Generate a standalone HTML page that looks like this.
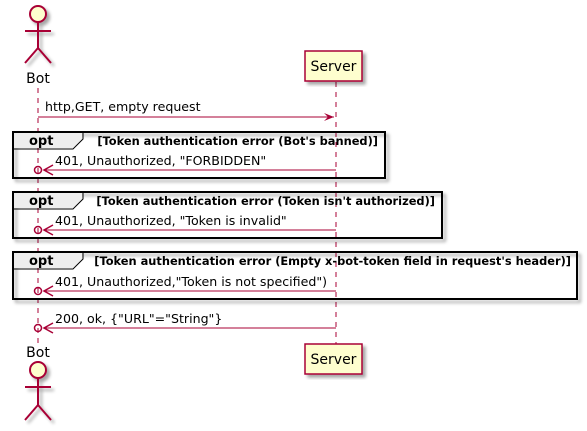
<!DOCTYPE html>
<html><head><meta charset="utf-8"><style>
html,body{margin:0;padding:0;background:#fff;}
svg{display:block;}
text{font-family:"DejaVu Sans","Liberation Sans",sans-serif;}
</style></head><body>
<svg width="587" height="431" viewBox="0 0 587 431" xmlns="http://www.w3.org/2000/svg">
<defs>
<filter id="sh" x="-10%" y="-10%" width="130%" height="130%"><feGaussianBlur in="SourceAlpha" stdDeviation="1.5"/><feOffset dx="3" dy="3"/><feComponentTransfer><feFuncA type="linear" slope="0.35"/></feComponentTransfer><feMerge><feMergeNode/><feMergeNode in="SourceGraphic"/></feMerge></filter>
</defs>
<line x1="38" y1="88" x2="38" y2="344" stroke="#A80036" stroke-dasharray="5,5"/>
<line x1="336" y1="82" x2="336" y2="344" stroke="#A80036" stroke-dasharray="5,5"/>

<g filter="url(#sh)" stroke="#A80036" stroke-width="2" fill="none">
<circle cx="38" cy="14" r="8" fill="#FEFECE"/>
<line x1="38" y1="22" x2="38" y2="48"/>
<line x1="25" y1="31" x2="51" y2="31"/>
<line x1="38" y1="48" x2="25" y2="63"/>
<line x1="38" y1="48" x2="51" y2="63"/>
</g>
<text x="38" y="83" font-size="14" text-anchor="middle">Bot</text>
<rect x="305" y="51" width="57" height="30" fill="#FEFECE" stroke="#A80036" stroke-width="1.5" filter="url(#sh)"/>
<text x="333.5" y="71" font-size="14" text-anchor="middle">Server</text>

<line x1="38" y1="117" x2="334" y2="117" stroke="#A80036"/>
<path d="M324,113 L334,117 L324,121 L328,117 Z" fill="#A80036"/>
<text x="45" y="111" font-size="12.6">http,GET, empty request</text>

<g font-size="11.4" font-weight="bold">
<rect x="13" y="132" width="372" height="46" fill="none" stroke="#000" stroke-width="2" filter="url(#sh)"/>
<path d="M14,133 L82,133 L82,139 L73,148 L14,148 Z" fill="#EEEEEE"/>
<path d="M13,149 L73,149 L83,139 L83,132" fill="none" stroke="#000"/>
<text x="29" y="145" font-size="13">opt</text>
<text x="378" y="145" text-anchor="end">[Token authentication error (Bot's banned)]</text>

<rect x="13" y="192" width="429" height="46" fill="none" stroke="#000" stroke-width="2" filter="url(#sh)"/>
<path d="M14,193 L82,193 L82,199 L73,208 L14,208 Z" fill="#EEEEEE"/>
<path d="M13,209 L73,209 L83,199 L83,192" fill="none" stroke="#000"/>
<text x="29" y="205" font-size="13">opt</text>
<text x="435" y="205" text-anchor="end">[Token authentication error (Token isn't authorized)]</text>

<rect x="13" y="252" width="564" height="47" fill="none" stroke="#000" stroke-width="2" filter="url(#sh)"/>
<path d="M14,253 L82,253 L82,259 L73,268 L14,268 Z" fill="#EEEEEE"/>
<path d="M13,269 L73,269 L83,259 L83,252" fill="none" stroke="#000"/>
<text x="29" y="265" font-size="13">opt</text>
<text x="571" y="265" text-anchor="end">[Token authentication error (Empty x-bot-token field in request's header)]</text>
</g>

<g stroke="#A80036" fill="none" stroke-width="1">
<line x1="44" y1="170" x2="336" y2="170"/>
<line x1="44" y1="230" x2="336" y2="230"/>
<line x1="44" y1="291" x2="336" y2="291"/>
<line x1="44" y1="328" x2="336" y2="328"/>
</g>
<g stroke="#A80036" fill="none" stroke-width="1.5">
<circle cx="38" cy="170" r="3.5"/><path d="M53,165 L44,170 L53,175"/>
<circle cx="38" cy="230" r="3.5"/><path d="M53,225 L44,230 L53,235"/>
<circle cx="38" cy="291" r="3.5"/><path d="M53,286 L44,291 L53,296"/>
<circle cx="38" cy="328" r="3.5"/><path d="M53,323 L44,328 L53,333"/>
</g>
<g font-size="12.6">
<text x="55" y="165">401, Unauthorized, "FORBIDDEN"</text>
<text x="55" y="225">401, Unauthorized, "Token is invalid"</text>
<text x="55" y="286">401, Unauthorized,"Token is not specified")</text>
<text x="55" y="323">200, ok, {"URL"="String"}</text>
</g>

<text x="38" y="357" font-size="14" text-anchor="middle">Bot</text>
<g filter="url(#sh)" stroke="#A80036" stroke-width="2" fill="none">
<circle cx="38" cy="370" r="8" fill="#FEFECE"/>
<line x1="38" y1="378" x2="38" y2="405"/>
<line x1="25" y1="387" x2="51" y2="387"/>
<line x1="38" y1="405" x2="25" y2="420"/>
<line x1="38" y1="405" x2="51" y2="420"/>
</g>
<rect x="305" y="344" width="57" height="30" fill="#FEFECE" stroke="#A80036" stroke-width="1.5" filter="url(#sh)"/>
<text x="333.5" y="364" font-size="14" text-anchor="middle">Server</text>
</svg>
</body></html>
